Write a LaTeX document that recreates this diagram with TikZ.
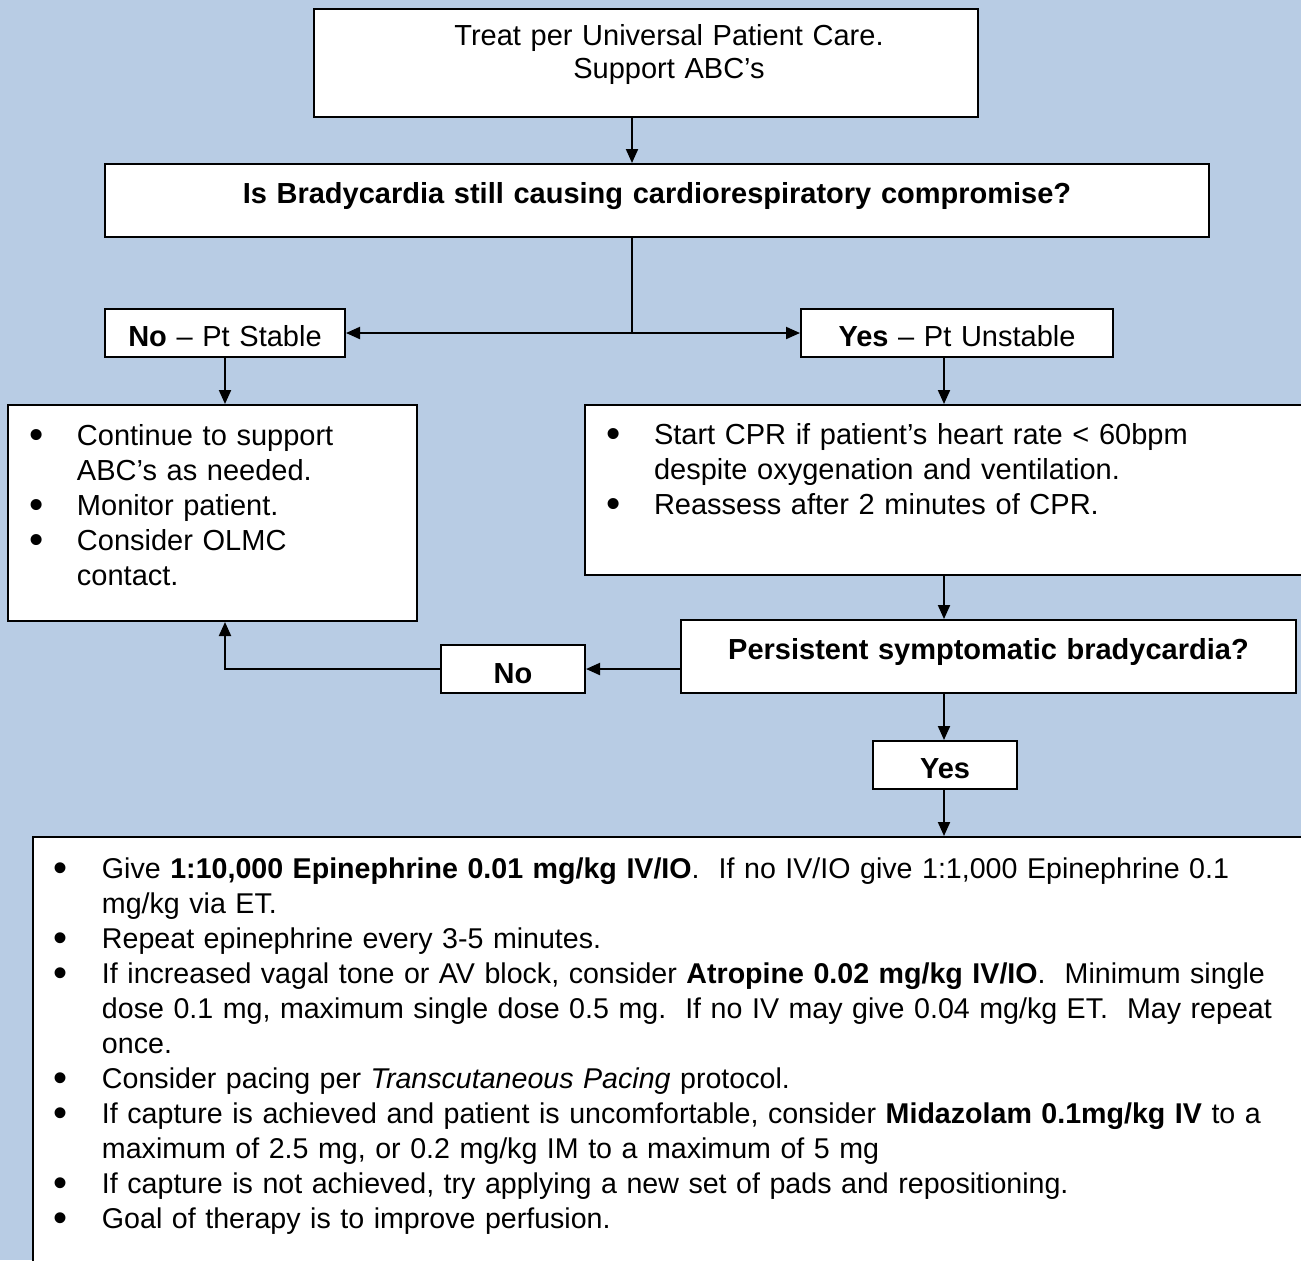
\documentclass[tikz,border=0pt]{standalone}
\usepackage{graphicx}
\usepackage{fontspec}
\setmainfont{Liberation Sans}
\usepackage{xcolor}
\usetikzlibrary{arrows.meta}

\definecolor{bgblue}{HTML}{B8CCE4}
% bullet mark with hanging indent; items are separated by \par
\newcommand{\bmark}{\hangindent=24pt\hangafter=1\noindent\makebox[24pt][l]{\raisebox{-0.12em}{\scalebox{1.4}{\textbullet}}}}

\begin{document}
\begin{tikzpicture}[x=0.5pt, y=-0.5pt, ->, >={Triangle[length=7pt,width=6pt]}, line width=1pt,
    box/.style={draw, fill=white, anchor=north west, inner xsep=0pt, inner ysep=0pt,
                font=\fontsize{14.5}{17.5}\selectfont},
    list/.style={box, inner xsep=10.5pt, align=left}]
  \useasboundingbox (0,0) rectangle (1301,1260);
  \fill[bgblue] (0,0) rectangle (1301,1260);
  \clip (0,0) rectangle (1301,1260);

  \coordinate (spine) at (632,0);
  \coordinate (col)   at (944,0);

  \node[box, text width=332pt, align=center, text height=18pt, text depth=36pt]   (care)  at (313,8)
    {\hspace*{23pt}Treat per Universal Patient Care.\\[-1pt]\hspace*{23pt}Support ABC’s};
  \node[box, text width=552pt, align=center, text height=19.5pt, text depth=17pt] (q1)    at (104,163)
    {\textbf{Is Bradycardia still causing cardiorespiratory compromise?}};
  \node[box, text width=120pt, align=center, text height=18.5pt, text depth=5.5pt] (stable)   at (104,308)
    {\textbf{No} – Pt Stable};
  \node[box, text width=156pt, align=center, text height=18.5pt, text depth=5.5pt] (unstable) at (800,308)
    {\textbf{Yes} – Pt Unstable};
  \node[list, text width=183.5pt, text height=20pt, text depth=88pt] (stableact) at (7,404)
    {\bmark Continue to support\newline ABC’s as needed.\par
     \bmark Monitor patient.\par
     \bmark Consider OLMC\newline contact.\par};
  \node[list, text width=352pt, text height=19.75pt, text depth=65.25pt] (unstableact) at (584,404)
    {\bmark Start CPR if patient’s heart rate < 60bpm\newline despite oxygenation and ventilation.\par
     \bmark Reassess after 2 minutes of CPR.\par};
  \node[box, text width=307.5pt, align=center, text height=19.5pt, text depth=17pt] (persist) at (680,619)
    {\textbf{Persistent symptomatic bradycardia?}};
  \node[box, text width=72pt, align=center, text height=19pt, text depth=5pt]     (no2)  at (440,644)
    {\textbf{No}};
  \node[box, text width=72pt, align=center, text height=18.5pt, text depth=5.5pt] (yes2) at (872,740)
    {\textbf{Yes}};
  \node[list, text width=628pt, text height=20.5pt, text depth=206.5pt,
        font=\fontsize{14.3}{17.5}\selectfont] (treat) at (32,836)
    {\bmark Give \textbf{1:10,000 Epinephrine 0.01 mg/kg IV/IO}.\ \ If no IV/IO give 1:1,000 Epinephrine 0.1\newline mg/kg via ET.\par
     \bmark Repeat epinephrine every 3-5 minutes.\par
     \bmark If increased vagal tone or AV block, consider \textbf{Atropine 0.02 mg/kg IV/IO}.\ \ Minimum single\newline dose 0.1 mg, maximum single dose 0.5 mg.\ \ If no IV may give 0.04 mg/kg ET.\ \ May repeat\newline once.\par
     \bmark Consider pacing per \textit{Transcutaneous Pacing} protocol.\par
     \bmark If capture is achieved and patient is uncomfortable, consider \textbf{Midazolam 0.1mg/kg IV} to a\newline maximum of 2.5 mg, or 0.2 mg/kg IM to a maximum of 5 mg\par
     \bmark If capture is not achieved, try applying a new set of pads and repositioning.\par
     \bmark Goal of therapy is to improve perfusion.\par};

  \coordinate (split) at (stable.east -| spine);

  \path (care.south -| spine)        edge          (q1.north -| spine)
        (q1.south -| spine)          edge[-]       (split)
        (split)                      edge          (stable.east)
                                     edge          (unstable.west)
        (stable.south)               edge          (stable.south |- stableact.north)
        (unstable.south -| col)      edge          (unstableact.north -| col)
        (unstableact.south -| col)   edge          (persist.north -| col)
        (persist.west |- no2.east)   edge          (no2.east)
        (persist.south -| col)       edge          (yes2.north -| col)
        (yes2.south -| col)          edge          (treat.north -| col);
  \draw (no2.west) -| (stableact.south -| stable.south);
\end{tikzpicture}
\end{document}
